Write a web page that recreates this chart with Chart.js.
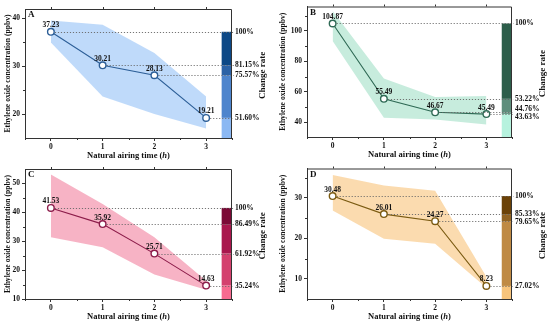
<!DOCTYPE html>
<html>
<head>
<meta charset="utf-8">
<script src="https://cdn.jsdelivr.net/npm/chart.js@4.4.1/dist/chart.umd.min.js"></script>
<style>
  body { margin: 0; background: #fff; }
  #wrap { position: relative; width: 550px; height: 324px; background: #fff; }
  #wrap canvas { position: absolute; }
</style>
</head>
<body>
<div id="wrap">
  <canvas id="cA" width="275" height="162" style="left:0;top:0"></canvas>
  <canvas id="cB" width="275" height="162" style="left:275px;top:0"></canvas>
  <canvas id="cC" width="275" height="162" style="left:0;top:162px"></canvas>
  <canvas id="cD" width="275" height="162" style="left:275px;top:162px"></canvas>
</div>
<script>
// airing time (h)
const hours = [0, 1, 2, 3];

// panel A
const meanA = [37.23, 30.21, 28.13, 19.21];
const upperA = [39.6, 38.7, 32.8, 23.7];
const lowerA = [35.0, 23.7, 20.0, 17.0];
const rateA = ['100%', '81.15%', '75.57%', '51.60%'];
const yTicksA = [20, 30, 40];

// panel B
const meanB = [104.87, 55.49, 46.67, 45.49];
const upperB = [113.0, 68.9, 56.7, 57.3];
const lowerB = [93.4, 43.1, 42.0, 38.7];
const rateB = ['100%', '53.22%', '44.76%', '43.63%'];
const yTicksB = [40, 60, 80, 100];

// panel C
const meanC = [41.53, 35.92, 25.71, 14.63];
const upperC = [53.1, 42.9, 31.4, 16.3];
const lowerC = [31.4, 27.9, 18.5, 13.2];
const rateC = ['100%', '86.49%', '61.92%', '35.24%'];
const yTicksC = [10, 20, 30, 40, 50];

// panel D
const meanD = [30.48, 26.01, 24.27, 8.23];
const upperD = [35.7, 33.1, 31.8, 10.5];
const lowerD = [26.9, 19.9, 18.7, 7.8];
const rateD = ['100%', '85.33%', '79.65%', '27.02%'];
const yTicksD = [10, 20, 30];

const FONT = "'Liberation Serif', 'Times New Roman', serif";
const BAR_FROM = 3.3;
const LABEL_GAP = 8;

const decor = {
  id: 'decor',
  beforeDatasetsDraw(chart) {
    const p = chart.options.plugins.decor;
    const { ctx, chartArea: a, scales: { x, y } } = chart;
    ctx.save();
    // change-rate colour bar
    const x0 = x.getPixelForValue(BAR_FROM);
    const edges = p.mean.concat([y.min]);
    for (let i = 0; i < p.mean.length; i++) {
      const t = y.getPixelForValue(edges[i]);
      const b = y.getPixelForValue(edges[i + 1]);
      ctx.fillStyle = p.bar[i];
      ctx.fillRect(x0, t, a.right - x0, b - t);
    }
    ctx.restore();
  },
  afterDatasetsDraw(chart) {
    const p = chart.options.plugins.decor;
    const { ctx, chartArea: a, scales: { x, y } } = chart;
    ctx.save();
    // dotted guide lines
    ctx.strokeStyle = '#666';
    ctx.lineWidth = 0.9;
    ctx.setLineDash([1.2, 1.8]);
    p.mean.forEach((v, i) => {
      const yy = Math.round(y.getPixelForValue(v)) + 0.5;
      ctx.beginPath();
      ctx.moveTo(x.getPixelForValue(hours[i]) + 4, yy);
      ctx.lineTo(a.right + 2, yy);
      ctx.stroke();
    });
    ctx.setLineDash([]);
    ctx.fillStyle = '#111';
    ctx.font = 'bold 7.5px ' + FONT;
    ctx.textAlign = 'center';
    ctx.textBaseline = 'alphabetic';
    p.mean.forEach((v, i) => {
      ctx.fillText(v.toFixed(2), x.getPixelForValue(hours[i]), y.getPixelForValue(v) - 4.5);
    });
    // percentage labels, spread apart when crowded
    const pos = p.mean.map(v => y.getPixelForValue(v));
    for (let k = 0; k < 20; k++) {
      for (let i = 1; i < pos.length; i++) {
        const gap = pos[i] - pos[i - 1];
        if (gap < LABEL_GAP) {
          const d = (LABEL_GAP - gap) / 2;
          pos[i - 1] -= d; pos[i] += d;
        }
      }
    }
    ctx.textAlign = 'left';
    ctx.textBaseline = 'middle';
    p.rate.forEach((t, i) => ctx.fillText(t, a.right + 3, pos[i]));
    ctx.restore();
  },
  afterDraw(chart) {
    const p = chart.options.plugins.decor;
    const { ctx, chartArea: a, scales: { x, y } } = chart;
    ctx.save();
    ctx.strokeStyle = '#333';
    ctx.lineWidth = 1;
    ctx.beginPath();
    ctx.moveTo(a.left, a.top + 0.5);
    ctx.lineTo(a.right - 0.5, a.top + 0.5);
    ctx.lineTo(a.right - 0.5, a.bottom);
    ctx.stroke();
    // minor / mirrored ticks
    ctx.beginPath();
    [-0.5, 0.5, 1.5, 2.5, 3.5].forEach(v => {
      const xx = Math.round(x.getPixelForValue(v)) + 0.5;
      ctx.moveTo(xx, a.bottom); ctx.lineTo(xx, a.bottom + 2);
    });
    hours.forEach(v => {
      const xx = Math.round(x.getPixelForValue(v)) + 0.5;
      ctx.moveTo(xx, a.top); ctx.lineTo(xx, a.top - 2);
    });
    const tk = p.yTicks;
    const step = tk[1] - tk[0];
    for (let v = tk[0] - step / 2; v < y.max; v += step) {
      if (v <= y.min) continue;
      const yy = Math.round(y.getPixelForValue(v)) + 0.5;
      ctx.moveTo(a.left, yy); ctx.lineTo(a.left - 2, yy);
    }
    ctx.stroke();
    // panel letter
    ctx.fillStyle = '#111';
    ctx.font = 'bold 9px ' + FONT;
    ctx.textBaseline = 'middle';
    ctx.textAlign = 'left';
    ctx.fillText(p.letter, a.left + 3, a.top + 6);
    // x title with italic h
    const parts = [['Natural airing time (', 'bold'], ['h', 'bold italic'], [')', 'bold']];
    let w = 0;
    parts.forEach(s => { ctx.font = s[1] + ' 8.5px ' + FONT; w += ctx.measureText(s[0]).width; });
    let xx = (a.left + a.right) / 2 - w / 2;
    const ty = a.bottom + 17.5;
    parts.forEach(s => {
      ctx.font = s[1] + ' 8.5px ' + FONT;
      ctx.fillText(s[0], xx, ty);
      xx += ctx.measureText(s[0]).width;
    });
    // right title
    ctx.font = 'bold 9px ' + FONT;
    ctx.textAlign = 'center';
    ctx.translate(a.right + 31, (a.top + a.bottom) / 2 + 2);
    ctx.rotate(-Math.PI / 2);
    ctx.fillText('Change rate', 0, 0);
    ctx.restore();
  }
};

function makePanel(id, letter, mean, upper, lower, rate, yTicks, yMin, yMax, band, line, bar, box) {
  const pts = arr => arr.map((v, i) => ({ x: hours[i], y: v }));
  new Chart(document.getElementById(id), {
    type: 'line',
    data: {
      datasets: [
        { data: pts(upper), order: 2, borderWidth: 0, pointRadius: 0, backgroundColor: band, fill: '+1', tension: 0 },
        { data: pts(lower), order: 2, borderWidth: 0, pointRadius: 0, backgroundColor: band, fill: false, tension: 0 },
        {
          data: pts(mean), order: 0, borderColor: line, borderWidth: 1.1, tension: 0,
          pointRadius: 3.3, pointBorderWidth: 1.4, pointBackgroundColor: '#fff', pointBorderColor: line
        }
      ]
    },
    options: {
      responsive: false,
      animation: false,
      layout: { padding: { top: box.top, right: 275 - box.right, left: 0, bottom: 0 } },
      plugins: {
        legend: { display: false },
        tooltip: { enabled: false },
        decor: { letter, mean, rate, bar, yTicks }
      },
      scales: {
        x: {
          type: 'linear', min: -0.5, max: 3.5,
          afterBuildTicks: s => { s.ticks = hours.map(v => ({ value: v })); },
          afterFit: s => { s.height = 162 - box.bottom; },
          ticks: { font: { family: FONT, size: 7.5, weight: 'bold' }, color: '#111', padding: 2, maxRotation: 0 },
          grid: { drawOnChartArea: false, tickLength: 3, color: '#333' },
          border: { color: '#333', width: 1 }
        },
        y: {
          min: yMin, max: yMax,
          afterBuildTicks: s => { s.ticks = yTicks.map(v => ({ value: v })); },
          afterFit: s => { s.width = box.left; },
          ticks: { font: { family: FONT, size: 7.5, weight: 'bold' }, color: '#111', padding: 2 },
          grid: { drawOnChartArea: false, tickLength: 3, color: '#333' },
          border: { color: '#333', width: 1 },
          title: {
            display: true, text: 'Ethylene oxide concentration (ppbv)', color: '#111',
            font: { family: FONT, size: 7.6, weight: 'bold' }, padding: { top: 3, bottom: 0 }
          }
        }
      }
    },
    plugins: [decor]
  });
}

makePanel('cA', 'A', meanA, upperA, lowerA, rateA, yTicksA, 15, 42,
  'rgba(170,205,248,0.75)', '#2c5e97', ['#0c4886', '#2b62a6', '#4e85cd', '#8bb8f3'],
  { left: 25, top: 9, right: 232, bottom: 138 });
makePanel('cB', 'B', meanB, upperB, lowerB, rateB, yTicksB, 30.5, 116,
  'rgba(180,230,210,0.75)', '#2f6a55', ['#2d5e4b', '#5e8e7c', '#6a9a88', '#b6f2de'],
  { left: 32, top: 5, right: 237, bottom: 137 });
makePanel('cC', 'C', meanC, upperC, lowerC, rateC, yTicksC, 10, 55,
  'rgba(245,160,182,0.8)', '#8c1c4a', ['#7b0936', '#a9174d', '#d4416e', '#f76b90'],
  { left: 25, top: 7, right: 232, bottom: 137 });
makePanel('cD', 'D', meanD, upperD, lowerD, rateD, yTicksD, 5, 37.3,
  'rgba(250,210,155,0.8)', '#7b5b12', ['#6b4207', '#916322', '#bf8a44', '#f7c47c'],
  { left: 32, top: 6, right: 237, bottom: 137 });
</script>
</body>
</html>
